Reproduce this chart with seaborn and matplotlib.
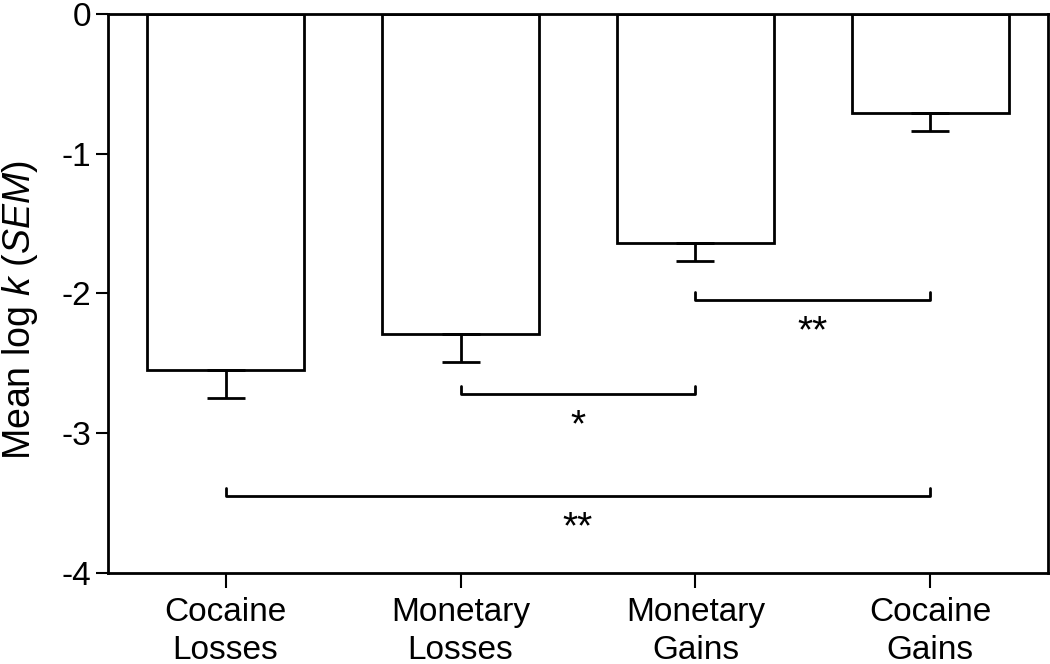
import matplotlib
matplotlib.use("Agg")
import matplotlib.pyplot as plt
import seaborn as sns
import pandas as pd

# podaci
conditions = ["Cocaine\nLosses", "Monetary\nLosses", "Monetary\nGains", "Cocaine\nGains"]
mean_logk = [-2.55, -2.29, -1.64, -0.71]
sem = [0.20, 0.20, 0.13, 0.13]

# usporedbe: (od, do, visina zagrade, oznaka)
pairs_from = [2, 1, 0]
pairs_to = [3, 2, 3]
bracket_y = [-2.05, -2.72, -3.45]
stars = ["**", "*", "**"]

sns.set_theme(style="ticks")
plt.rcParams["font.family"] = ["Liberation Sans", "DejaVu Sans"]
plt.rcParams["mathtext.fontset"] = "custom"
plt.rcParams["mathtext.rm"] = "Liberation Sans"
plt.rcParams["mathtext.it"] = "Liberation Sans:italic"
plt.rcParams["axes.unicode_minus"] = False
plt.rcParams["text.color"] = "black"
plt.rcParams["axes.labelcolor"] = "black"
plt.rcParams["xtick.color"] = "black"
plt.rcParams["ytick.color"] = "black"

df = pd.DataFrame({"cond": conditions, "logk": mean_logk, "sem": sem})

fig = plt.figure(figsize=(10.5, 6.64), dpi=100)
ax = fig.add_axes([0.103, 0.137, 0.895, 0.842])

sns.barplot(data=df, x="cond", y="logk", ax=ax, color="white",
            edgecolor="black", linewidth=2, width=0.67, errorbar=None)

# samo donji dio SEM
ax.errorbar(range(len(conditions)), mean_logk, yerr=[sem, [0] * len(sem)],
            fmt="none", ecolor="black", elinewidth=2, capsize=14, capthick=2)

# zagrade sa zvjezdicama
tick_h = 0.06
for a, b, y, s in zip(pairs_from, pairs_to, bracket_y, stars):
    ax.plot([a, a, b, b], [y + tick_h, y, y, y + tick_h], color="black", lw=2)
    ax.text((a + b) / 2, y - 0.1, s, ha="center", va="top", fontsize=28)

ax.set_ylim(-4, 0)
ax.set_xlim(-0.5, 3.5)
ax.set_yticks([0, -1, -2, -3, -4])
ax.set_yticklabels(["0", "-1", "-2", "-3", "-4"])
ax.set_xlabel("")
ax.set_ylabel(r"Mean log $\mathit{k}$ ($\mathit{SEM}$)", fontsize=27)
ax.yaxis.set_label_coords(-0.072, 0.47)
ax.tick_params(axis="both", labelsize=24, width=1.5, length=9)
ax.tick_params(axis="x", length=11, pad=6)
for lbl in ax.get_xticklabels():
    lbl.set_linespacing(1.3)
for sp in ax.spines.values():
    sp.set_visible(True)
    sp.set_linewidth(2)
    sp.set_color("black")

fig.savefig("out.png", dpi=100)
